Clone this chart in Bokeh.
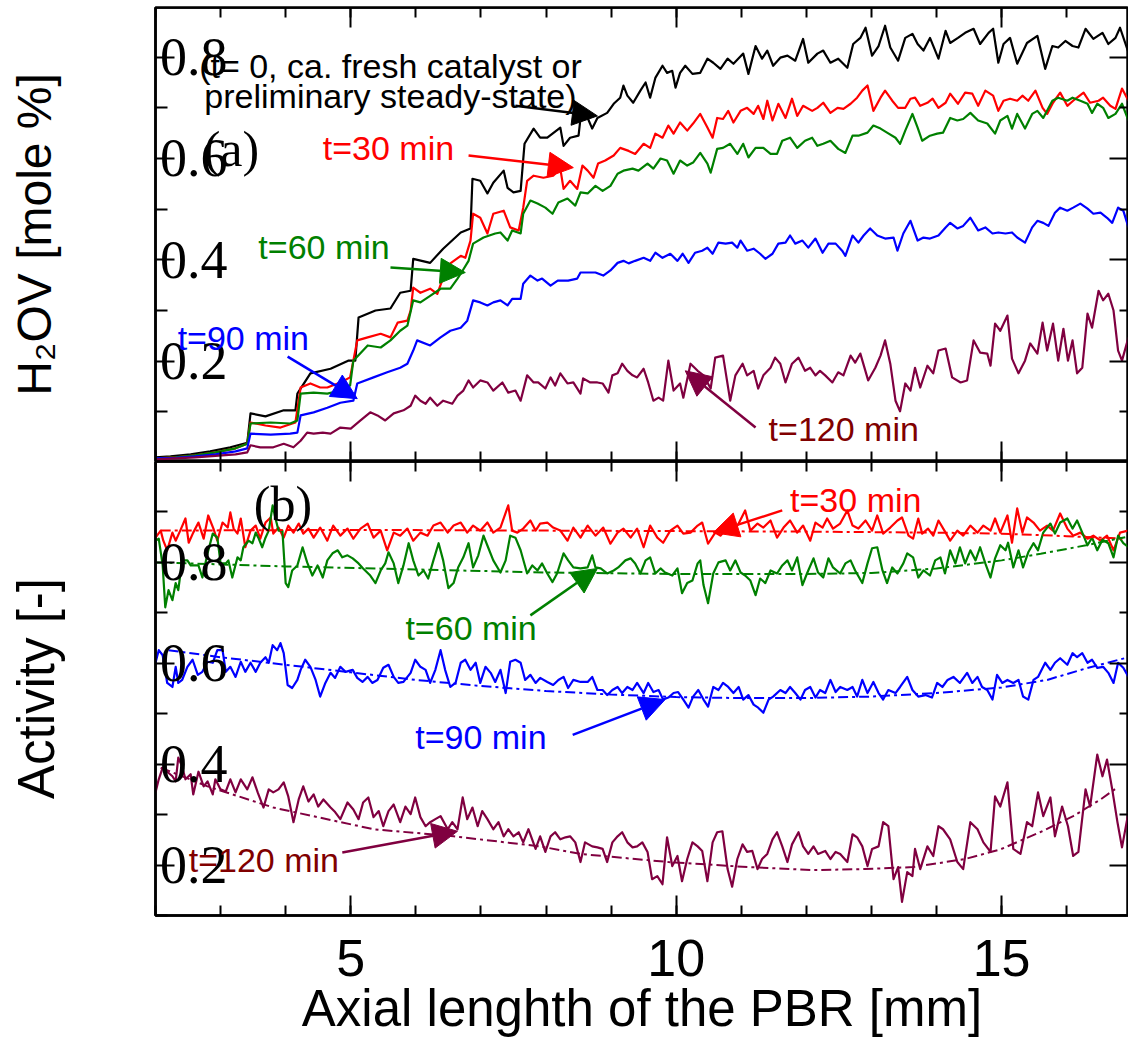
from bokeh.plotting import figure
from bokeh.layouts import column
from bokeh.models import Range1d, FixedTicker, LinearAxis, Label, Arrow, NormalHead
from bokeh.embed import file_html
from bokeh.resources import INLINE

# ---------------- data: panel (a) H2OV [mole %] ----------------
a_black_x = [2.00,2.23,2.54,2.84,3.15,3.41,3.46,3.69,3.97,4.15,4.18,4.38,4.69,4.96,5.07,5.12,5.38,5.61,5.76,5.92,5.96,6.22,6.42,6.69,6.84,6.87,6.99,7.10,7.19,7.35,7.41,7.50,7.61,7.67,7.81,7.91,8.02,8.22,8.27,8.37,8.50,8.53,8.64,8.71,8.79,8.94,9.04,9.14,9.19,9.25,9.34,9.45,9.53,9.60,9.68,9.79,9.86,9.94,9.99,10.06,10.14,10.25,10.37,10.48,10.57,10.68,10.79,10.88,11.03,11.11,11.22,11.32,11.40,11.49,11.60,11.71,11.83,11.95,12.03,12.17,12.26,12.37,12.49,12.63,12.72,12.83,12.91,13.01,13.11,13.21,13.29,13.41,13.52,13.63,13.71,13.80,13.90,14.03,14.14,14.21,14.33,14.44,14.57,14.67,14.80,14.87,14.95,15.03,15.13,15.24,15.39,15.55,15.67,15.78,15.87,15.98,16.09,16.18,16.29,16.41,16.55,16.64,16.75,16.82,16.95]
a_black_y = [0.010,0.012,0.016,0.022,0.030,0.039,0.097,0.091,0.103,0.103,0.136,0.176,0.185,0.201,0.201,0.286,0.300,0.304,0.335,0.339,0.402,0.394,0.422,0.454,0.462,0.560,0.556,0.531,0.552,0.576,0.542,0.533,0.536,0.629,0.659,0.641,0.641,0.661,0.625,0.641,0.645,0.679,0.680,0.659,0.680,0.690,0.708,0.720,0.744,0.724,0.710,0.734,0.750,0.720,0.759,0.783,0.769,0.773,0.740,0.769,0.783,0.767,0.769,0.797,0.789,0.777,0.797,0.787,0.807,0.767,0.822,0.797,0.813,0.783,0.799,0.803,0.793,0.836,0.789,0.807,0.813,0.789,0.797,0.779,0.826,0.838,0.858,0.803,0.822,0.862,0.819,0.793,0.838,0.846,0.826,0.813,0.838,0.797,0.852,0.828,0.838,0.848,0.856,0.826,0.848,0.856,0.789,0.826,0.838,0.787,0.828,0.842,0.777,0.822,0.819,0.832,0.822,0.819,0.856,0.836,0.848,0.826,0.838,0.858,0.809]

a_red_x = [2.00,2.31,2.61,2.92,3.23,3.41,3.46,3.69,3.92,4.15,4.23,4.38,4.53,4.64,4.84,4.99,5.10,5.26,5.46,5.61,5.72,5.87,5.92,5.96,6.07,6.22,6.33,6.42,6.53,6.69,6.76,6.84,6.88,6.99,7.10,7.19,7.35,7.45,7.58,7.65,7.71,7.81,7.96,8.11,8.22,8.27,8.37,8.48,8.56,8.64,8.73,8.80,8.91,9.04,9.14,9.27,9.37,9.50,9.60,9.68,9.79,9.88,9.96,10.06,10.17,10.26,10.37,10.48,10.56,10.63,10.72,10.80,10.88,10.99,11.09,11.19,11.26,11.34,11.40,11.48,11.57,11.68,11.78,11.86,11.95,12.09,12.17,12.26,12.37,12.48,12.57,12.68,12.78,12.86,12.94,13.03,13.14,13.21,13.32,13.41,13.52,13.60,13.67,13.75,13.86,13.94,14.03,14.14,14.21,14.33,14.44,14.55,14.64,14.75,14.87,14.95,15.03,15.13,15.24,15.32,15.41,15.52,15.63,15.70,15.79,15.90,16.01,16.10,16.26,16.36,16.49,16.56,16.67,16.75,16.85,16.95]
a_red_y = [0.008,0.010,0.014,0.020,0.028,0.037,0.079,0.073,0.069,0.079,0.148,0.156,0.148,0.148,0.158,0.168,0.241,0.247,0.254,0.247,0.276,0.280,0.300,0.345,0.335,0.343,0.333,0.365,0.393,0.408,0.404,0.438,0.491,0.483,0.452,0.491,0.497,0.464,0.458,0.503,0.556,0.566,0.562,0.566,0.580,0.540,0.556,0.540,0.586,0.576,0.562,0.590,0.596,0.606,0.621,0.615,0.609,0.629,0.621,0.649,0.641,0.665,0.649,0.671,0.655,0.669,0.688,0.661,0.641,0.680,0.678,0.694,0.671,0.694,0.700,0.688,0.704,0.678,0.714,0.675,0.708,0.680,0.718,0.684,0.704,0.694,0.700,0.710,0.690,0.700,0.698,0.708,0.720,0.734,0.744,0.694,0.720,0.734,0.714,0.700,0.700,0.718,0.720,0.704,0.710,0.718,0.700,0.710,0.728,0.708,0.730,0.728,0.704,0.734,0.724,0.694,0.714,0.718,0.714,0.724,0.714,0.734,0.700,0.688,0.710,0.730,0.704,0.714,0.730,0.710,0.714,0.720,0.704,0.698,0.738,0.714]

a_green_x = [2.00,2.31,2.61,2.92,3.23,3.41,3.46,3.77,4.07,4.18,4.23,4.43,4.64,4.84,4.99,5.04,5.26,5.46,5.61,5.76,5.87,5.96,6.07,6.22,6.38,6.53,6.64,6.72,6.81,6.88,7.04,7.22,7.30,7.41,7.48,7.61,7.65,7.76,7.87,7.99,8.10,8.19,8.33,8.45,8.53,8.64,8.76,8.87,8.99,9.10,9.19,9.33,9.42,9.56,9.65,9.76,9.86,9.96,10.06,10.17,10.26,10.37,10.48,10.53,10.63,10.72,10.83,10.94,11.03,11.11,11.22,11.34,11.45,11.55,11.63,11.75,11.86,11.98,12.09,12.17,12.26,12.37,12.49,12.60,12.71,12.80,12.94,13.03,13.14,13.24,13.37,13.44,13.52,13.63,13.71,13.78,13.90,14.01,14.10,14.21,14.32,14.41,14.52,14.64,14.78,14.90,14.98,15.09,15.16,15.24,15.36,15.47,15.55,15.64,15.78,15.87,16.01,16.09,16.21,16.32,16.39,16.47,16.56,16.64,16.75,16.85,16.95]
a_green_y = [0.008,0.010,0.014,0.020,0.028,0.037,0.077,0.079,0.077,0.083,0.136,0.138,0.136,0.142,0.152,0.201,0.231,0.227,0.241,0.260,0.270,0.320,0.316,0.329,0.343,0.343,0.363,0.379,0.398,0.432,0.444,0.452,0.454,0.438,0.458,0.452,0.491,0.517,0.511,0.503,0.491,0.513,0.521,0.507,0.533,0.531,0.546,0.536,0.546,0.570,0.576,0.580,0.576,0.590,0.580,0.600,0.596,0.570,0.596,0.586,0.592,0.611,0.590,0.572,0.619,0.621,0.629,0.609,0.629,0.602,0.621,0.621,0.609,0.609,0.635,0.641,0.621,0.635,0.641,0.625,0.629,0.635,0.619,0.611,0.645,0.645,0.651,0.665,0.659,0.651,0.641,0.629,0.655,0.688,0.661,0.635,0.645,0.649,0.651,0.680,0.675,0.678,0.690,0.675,0.669,0.649,0.675,0.684,0.659,0.688,0.659,0.688,0.694,0.680,0.714,0.720,0.714,0.720,0.714,0.708,0.690,0.708,0.700,0.680,0.688,0.708,0.675]

a_blue_x = [2.00,2.31,2.61,2.92,3.23,3.41,3.46,3.77,4.07,4.18,4.23,4.43,4.64,4.84,5.04,5.10,5.35,5.56,5.76,5.87,5.96,6.02,6.22,6.38,6.53,6.69,6.79,6.88,6.99,7.10,7.19,7.30,7.41,7.48,7.61,7.65,7.76,7.87,7.94,8.07,8.18,8.34,8.48,8.53,8.64,8.76,8.88,8.99,9.10,9.19,9.27,9.37,9.50,9.60,9.68,9.79,9.91,10.02,10.10,10.19,10.29,10.40,10.48,10.56,10.65,10.76,10.86,10.94,10.99,11.09,11.19,11.29,11.37,11.48,11.57,11.68,11.75,11.83,11.94,12.03,12.14,12.25,12.34,12.45,12.55,12.60,12.71,12.80,12.88,12.98,13.09,13.21,13.34,13.40,13.49,13.60,13.71,13.80,13.90,14.03,14.14,14.21,14.32,14.41,14.52,14.64,14.75,14.86,14.95,15.06,15.16,15.24,15.36,15.47,15.55,15.64,15.72,15.82,15.90,16.01,16.10,16.21,16.32,16.41,16.52,16.62,16.70,16.79,16.87,16.95]
a_blue_y = [0.008,0.009,0.012,0.016,0.022,0.028,0.057,0.055,0.057,0.059,0.093,0.099,0.108,0.118,0.122,0.156,0.168,0.178,0.187,0.195,0.221,0.241,0.231,0.247,0.260,0.266,0.280,0.320,0.316,0.310,0.316,0.320,0.310,0.323,0.323,0.353,0.369,0.359,0.363,0.349,0.359,0.359,0.363,0.375,0.375,0.375,0.369,0.379,0.394,0.398,0.393,0.398,0.404,0.398,0.414,0.404,0.412,0.398,0.412,0.394,0.414,0.418,0.424,0.412,0.434,0.432,0.434,0.424,0.438,0.418,0.422,0.412,0.402,0.412,0.432,0.434,0.448,0.432,0.438,0.424,0.442,0.414,0.432,0.432,0.418,0.408,0.448,0.434,0.448,0.462,0.448,0.442,0.444,0.418,0.452,0.477,0.438,0.444,0.442,0.448,0.464,0.473,0.462,0.467,0.483,0.458,0.464,0.452,0.454,0.452,0.454,0.444,0.434,0.464,0.477,0.473,0.467,0.493,0.503,0.497,0.503,0.511,0.501,0.491,0.493,0.483,0.473,0.503,0.497,0.464]

a_purple_x = [2.00,2.31,2.61,2.92,3.23,3.41,3.46,3.61,3.81,3.97,4.12,4.23,4.33,4.43,4.57,4.69,4.84,5.00,5.15,5.30,5.41,5.53,5.66,5.81,5.92,5.99,6.07,6.15,6.22,6.33,6.42,6.56,6.64,6.73,6.81,6.88,6.99,7.10,7.19,7.33,7.42,7.53,7.61,7.71,7.81,7.88,7.99,8.07,8.14,8.22,8.33,8.42,8.53,8.57,8.68,8.79,8.87,8.96,9.02,9.10,9.17,9.25,9.33,9.40,9.50,9.57,9.65,9.73,9.80,9.88,9.96,10.06,10.11,10.22,10.33,10.42,10.53,10.60,10.72,10.83,10.91,11.02,11.09,11.19,11.26,11.34,11.45,11.52,11.60,11.68,11.78,11.88,11.98,12.06,12.14,12.21,12.29,12.40,12.49,12.57,12.68,12.75,12.83,12.95,13.06,13.14,13.21,13.29,13.37,13.44,13.52,13.60,13.67,13.75,13.86,13.95,14.03,14.14,14.24,14.37,14.47,14.57,14.67,14.78,14.83,14.90,14.98,15.09,15.16,15.26,15.36,15.44,15.55,15.63,15.70,15.79,15.87,15.95,16.02,16.09,16.16,16.24,16.32,16.39,16.49,16.56,16.64,16.72,16.79,16.85,16.95]
a_purple_y = [0.006,0.008,0.010,0.013,0.016,0.020,0.034,0.030,0.030,0.037,0.030,0.043,0.059,0.057,0.059,0.057,0.069,0.067,0.083,0.099,0.093,0.083,0.097,0.103,0.112,0.132,0.122,0.116,0.128,0.112,0.122,0.116,0.132,0.142,0.162,0.148,0.162,0.158,0.142,0.158,0.138,0.142,0.122,0.172,0.158,0.158,0.146,0.168,0.152,0.176,0.156,0.158,0.136,0.166,0.158,0.158,0.156,0.138,0.172,0.176,0.195,0.181,0.172,0.168,0.185,0.158,0.122,0.128,0.122,0.201,0.142,0.156,0.128,0.195,0.181,0.172,0.146,0.207,0.211,0.122,0.172,0.195,0.172,0.181,0.146,0.172,0.187,0.207,0.195,0.158,0.195,0.207,0.181,0.187,0.172,0.181,0.172,0.158,0.178,0.172,0.211,0.197,0.215,0.162,0.187,0.211,0.241,0.195,0.122,0.101,0.156,0.142,0.187,0.148,0.191,0.176,0.221,0.225,0.168,0.158,0.162,0.241,0.217,0.215,0.191,0.274,0.260,0.290,0.205,0.176,0.201,0.235,0.215,0.276,0.221,0.274,0.201,0.264,0.201,0.241,0.176,0.187,0.294,0.266,0.339,0.320,0.333,0.300,0.221,0.201,0.247]

# ---------------- data: panel (b) Activity [-] ----------------
b_red_x = [2.00,2.08,2.12,2.18,2.26,2.31,2.38,2.46,2.51,2.58,2.66,2.74,2.81,2.89,2.95,3.03,3.11,3.15,3.20,3.26,3.31,3.38,3.46,3.54,3.61,3.69,3.77,3.81,3.89,3.97,4.04,4.12,4.20,4.27,4.35,4.43,4.53,4.64,4.73,4.84,4.95,5.04,5.15,5.26,5.35,5.46,5.56,5.66,5.76,5.87,5.96,6.07,6.18,6.27,6.38,6.49,6.58,6.69,6.79,6.88,6.99,7.10,7.19,7.30,7.42,7.48,7.56,7.65,7.76,7.84,7.91,8.02,8.11,8.22,8.33,8.42,8.53,8.64,8.76,8.88,8.99,9.10,9.19,9.30,9.40,9.50,9.60,9.71,9.80,9.91,10.02,10.11,10.22,10.33,10.40,10.49,10.60,10.68,10.79,10.88,10.96,11.06,11.14,11.25,11.34,11.45,11.55,11.65,11.75,11.86,11.95,12.06,12.14,12.25,12.32,12.41,12.52,12.63,12.71,12.80,12.91,13.01,13.09,13.18,13.29,13.40,13.47,13.57,13.64,13.72,13.78,13.87,13.95,14.03,14.14,14.21,14.32,14.41,14.52,14.63,14.72,14.83,14.90,14.98,15.09,15.16,15.24,15.32,15.39,15.49,15.59,15.70,15.79,15.90,16.01,16.10,16.21,16.32,16.41,16.52,16.62,16.72,16.82,16.95]
b_red_y = [0.849,0.863,0.843,0.824,0.859,0.843,0.863,0.887,0.839,0.859,0.879,0.847,0.893,0.867,0.843,0.879,0.869,0.899,0.867,0.857,0.887,0.830,0.863,0.873,0.847,0.879,0.889,0.857,0.869,0.849,0.873,0.859,0.877,0.857,0.867,0.849,0.869,0.843,0.873,0.853,0.867,0.847,0.867,0.877,0.849,0.863,0.824,0.859,0.853,0.867,0.843,0.859,0.853,0.873,0.879,0.859,0.873,0.879,0.859,0.873,0.863,0.879,0.859,0.869,0.913,0.863,0.859,0.867,0.883,0.863,0.877,0.879,0.869,0.863,0.843,0.869,0.849,0.873,0.853,0.869,0.837,0.859,0.867,0.849,0.867,0.830,0.873,0.849,0.839,0.863,0.873,0.857,0.859,0.873,0.879,0.837,0.859,0.853,0.869,0.863,0.877,0.903,0.863,0.877,0.869,0.883,0.849,0.869,0.883,0.859,0.873,0.843,0.879,0.869,0.887,0.867,0.877,0.903,0.873,0.867,0.883,0.863,0.893,0.857,0.869,0.883,0.889,0.853,0.847,0.887,0.857,0.867,0.853,0.883,0.859,0.843,0.863,0.853,0.873,0.859,0.873,0.863,0.887,0.859,0.893,0.839,0.907,0.859,0.889,0.879,0.863,0.873,0.863,0.897,0.867,0.853,0.859,0.847,0.853,0.843,0.853,0.824,0.859,0.863]

b_green_x = [2.00,2.05,2.11,2.15,2.20,2.26,2.31,2.35,2.41,2.49,2.54,2.58,2.66,2.72,2.80,2.88,2.95,3.00,3.08,3.12,3.18,3.26,3.31,3.35,3.43,3.49,3.54,3.58,3.64,3.69,3.74,3.80,3.84,3.89,3.95,4.00,4.04,4.10,4.18,4.26,4.33,4.41,4.49,4.57,4.64,4.72,4.80,4.87,4.95,5.03,5.12,5.19,5.30,5.38,5.46,5.53,5.58,5.66,5.73,5.81,5.89,5.96,6.04,6.12,6.19,6.27,6.35,6.42,6.50,6.58,6.65,6.73,6.81,6.88,6.96,7.04,7.11,7.19,7.30,7.38,7.45,7.53,7.61,7.71,7.79,7.87,7.94,8.02,8.10,8.17,8.27,8.34,8.42,8.53,8.64,8.71,8.76,8.84,8.94,9.04,9.11,9.22,9.30,9.37,9.45,9.53,9.60,9.68,9.76,9.83,9.94,10.02,10.09,10.17,10.25,10.33,10.37,10.42,10.49,10.57,10.65,10.76,10.83,10.91,10.99,11.06,11.14,11.22,11.29,11.37,11.45,11.55,11.63,11.71,11.78,11.86,11.94,12.01,12.11,12.18,12.26,12.34,12.41,12.52,12.60,12.68,12.75,12.86,12.94,13.01,13.09,13.17,13.24,13.32,13.40,13.49,13.55,13.64,13.72,13.80,13.90,13.98,14.06,14.13,14.21,14.29,14.36,14.44,14.52,14.60,14.67,14.75,14.83,14.90,14.98,15.06,15.10,15.18,15.26,15.33,15.41,15.49,15.56,15.64,15.75,15.82,15.90,16.01,16.09,16.16,16.24,16.32,16.39,16.47,16.55,16.64,16.72,16.79,16.87,16.95]
b_green_y = [0.843,0.847,0.794,0.711,0.745,0.725,0.759,0.745,0.804,0.804,0.794,0.794,0.794,0.770,0.818,0.857,0.849,0.798,0.798,0.804,0.770,0.810,0.804,0.830,0.843,0.838,0.859,0.849,0.830,0.849,0.863,0.913,0.889,0.863,0.863,0.759,0.751,0.784,0.794,0.830,0.800,0.774,0.794,0.770,0.804,0.818,0.824,0.810,0.814,0.808,0.798,0.788,0.774,0.759,0.784,0.798,0.820,0.798,0.759,0.794,0.838,0.804,0.774,0.784,0.768,0.804,0.838,0.804,0.749,0.759,0.790,0.810,0.838,0.790,0.814,0.853,0.830,0.804,0.780,0.804,0.853,0.849,0.824,0.778,0.794,0.784,0.798,0.778,0.761,0.778,0.818,0.804,0.790,0.788,0.790,0.814,0.790,0.788,0.778,0.784,0.790,0.804,0.808,0.798,0.778,0.804,0.810,0.778,0.788,0.780,0.774,0.788,0.739,0.759,0.764,0.798,0.804,0.755,0.719,0.778,0.800,0.804,0.784,0.804,0.780,0.774,0.764,0.735,0.768,0.759,0.784,0.778,0.794,0.804,0.784,0.810,0.755,0.778,0.808,0.780,0.770,0.808,0.790,0.778,0.798,0.804,0.784,0.759,0.798,0.828,0.830,0.784,0.759,0.790,0.778,0.798,0.818,0.810,0.770,0.784,0.774,0.804,0.810,0.778,0.824,0.798,0.830,0.798,0.824,0.804,0.830,0.798,0.770,0.808,0.834,0.824,0.839,0.790,0.824,0.790,0.820,0.838,0.824,0.859,0.877,0.857,0.879,0.887,0.867,0.883,0.859,0.834,0.849,0.824,0.845,0.838,0.810,0.853,0.838,0.830]

b_blue_x = [2.00,2.05,2.11,2.18,2.26,2.31,2.35,2.41,2.49,2.57,2.65,2.72,2.80,2.88,2.95,3.03,3.08,3.15,3.23,3.31,3.38,3.46,3.54,3.61,3.69,3.74,3.80,3.87,3.92,3.97,4.03,4.10,4.18,4.23,4.30,4.38,4.46,4.53,4.61,4.69,4.76,4.84,4.92,5.03,5.10,5.18,5.26,5.33,5.41,5.50,5.58,5.66,5.73,5.81,5.92,5.99,6.07,6.15,6.22,6.30,6.38,6.45,6.53,6.61,6.69,6.76,6.84,6.92,6.99,7.07,7.15,7.22,7.30,7.38,7.45,7.53,7.61,7.68,7.76,7.84,7.91,8.02,8.11,8.19,8.27,8.34,8.42,8.53,8.64,8.71,8.79,8.87,8.94,9.02,9.10,9.17,9.25,9.33,9.40,9.50,9.57,9.65,9.73,9.80,9.88,9.96,10.03,10.11,10.19,10.26,10.34,10.42,10.49,10.57,10.65,10.72,10.80,10.88,10.96,11.03,11.11,11.19,11.26,11.34,11.42,11.49,11.60,11.68,11.75,11.83,11.91,11.98,12.06,12.14,12.21,12.29,12.37,12.45,12.52,12.63,12.71,12.78,12.86,12.94,13.03,13.11,13.18,13.26,13.37,13.44,13.55,13.63,13.72,13.83,13.93,14.01,14.09,14.17,14.26,14.36,14.47,14.55,14.63,14.70,14.78,14.86,14.93,15.01,15.09,15.18,15.26,15.33,15.41,15.49,15.56,15.67,15.75,15.82,15.90,16.01,16.09,16.16,16.24,16.32,16.39,16.47,16.56,16.64,16.72,16.79,16.87,16.95]
b_blue_y = [0.601,0.626,0.616,0.561,0.553,0.593,0.561,0.567,0.593,0.607,0.577,0.583,0.603,0.601,0.626,0.626,0.583,0.593,0.573,0.603,0.583,0.601,0.583,0.601,0.612,0.601,0.636,0.626,0.640,0.620,0.557,0.551,0.567,0.587,0.607,0.593,0.567,0.534,0.561,0.581,0.571,0.593,0.583,0.587,0.571,0.563,0.573,0.561,0.567,0.591,0.597,0.573,0.561,0.563,0.581,0.607,0.593,0.587,0.561,0.587,0.626,0.587,0.553,0.561,0.601,0.607,0.587,0.601,0.561,0.593,0.581,0.563,0.587,0.541,0.603,0.607,0.601,0.567,0.577,0.561,0.571,0.563,0.557,0.567,0.573,0.551,0.567,0.563,0.563,0.573,0.547,0.547,0.537,0.547,0.553,0.541,0.553,0.547,0.561,0.541,0.561,0.543,0.547,0.528,0.532,0.541,0.543,0.528,0.512,0.534,0.547,0.528,0.514,0.553,0.547,0.561,0.553,0.541,0.553,0.528,0.537,0.518,0.512,0.502,0.528,0.534,0.547,0.541,0.553,0.541,0.528,0.547,0.553,0.532,0.547,0.541,0.567,0.543,0.553,0.547,0.553,0.534,0.567,0.541,0.563,0.541,0.528,0.547,0.541,0.553,0.573,0.547,0.534,0.537,0.532,0.561,0.553,0.567,0.573,0.561,0.581,0.561,0.573,0.553,0.547,0.528,0.577,0.561,0.567,0.561,0.567,0.534,0.528,0.567,0.573,0.601,0.587,0.601,0.610,0.597,0.620,0.612,0.620,0.601,0.607,0.591,0.593,0.581,0.561,0.601,0.591,0.573]

b_purple_x = [2.00,2.05,2.11,2.18,2.26,2.31,2.35,2.41,2.46,2.54,2.58,2.66,2.74,2.80,2.88,2.92,3.00,3.08,3.15,3.23,3.31,3.41,3.49,3.57,3.66,3.74,3.81,3.89,3.97,4.04,4.12,4.20,4.27,4.35,4.43,4.50,4.58,4.69,4.76,4.84,4.95,5.04,5.12,5.19,5.27,5.35,5.43,5.50,5.58,5.66,5.76,5.84,5.92,5.99,6.07,6.15,6.22,6.30,6.38,6.49,6.56,6.64,6.72,6.79,6.87,6.95,7.02,7.10,7.19,7.27,7.35,7.42,7.50,7.58,7.65,7.73,7.84,7.91,7.99,8.07,8.14,8.22,8.30,8.37,8.45,8.53,8.60,8.71,8.79,8.87,8.94,9.02,9.10,9.17,9.25,9.33,9.40,9.48,9.56,9.63,9.71,9.79,9.86,9.94,10.02,10.09,10.17,10.25,10.33,10.40,10.48,10.56,10.63,10.71,10.79,10.86,10.94,11.02,11.09,11.17,11.25,11.32,11.40,11.48,11.55,11.63,11.71,11.78,11.88,11.95,12.03,12.11,12.18,12.29,12.37,12.45,12.52,12.63,12.71,12.78,12.86,12.94,13.01,13.11,13.18,13.26,13.34,13.41,13.47,13.55,13.63,13.67,13.75,13.86,13.95,14.03,14.10,14.21,14.32,14.41,14.52,14.63,14.72,14.83,14.90,14.98,15.09,15.18,15.29,15.39,15.47,15.56,15.64,15.75,15.82,15.93,16.02,16.10,16.18,16.29,16.36,16.47,16.55,16.62,16.70,16.78,16.85,16.95]
b_purple_y = [0.344,0.370,0.393,0.385,0.376,0.366,0.413,0.395,0.370,0.380,0.340,0.385,0.356,0.366,0.340,0.370,0.350,0.346,0.370,0.344,0.370,0.350,0.374,0.344,0.314,0.350,0.344,0.350,0.364,0.336,0.285,0.330,0.356,0.326,0.340,0.316,0.330,0.314,0.305,0.291,0.324,0.310,0.291,0.324,0.334,0.295,0.307,0.277,0.307,0.320,0.285,0.316,0.301,0.334,0.295,0.277,0.285,0.291,0.297,0.271,0.285,0.271,0.334,0.291,0.314,0.277,0.307,0.291,0.271,0.285,0.257,0.271,0.257,0.265,0.245,0.271,0.232,0.257,0.226,0.257,0.265,0.251,0.255,0.257,0.245,0.206,0.245,0.237,0.235,0.232,0.206,0.245,0.257,0.265,0.245,0.235,0.237,0.245,0.226,0.172,0.178,0.162,0.255,0.198,0.218,0.168,0.212,0.245,0.237,0.228,0.168,0.245,0.265,0.267,0.192,0.157,0.212,0.241,0.226,0.228,0.192,0.212,0.222,0.251,0.265,0.237,0.206,0.241,0.265,0.237,0.222,0.237,0.222,0.228,0.212,0.226,0.222,0.206,0.261,0.255,0.237,0.198,0.232,0.237,0.285,0.277,0.172,0.196,0.127,0.186,0.178,0.232,0.192,0.237,0.218,0.277,0.271,0.251,0.206,0.192,0.285,0.271,0.245,0.226,0.336,0.316,0.364,0.232,0.222,0.285,0.277,0.344,0.297,0.334,0.257,0.316,0.277,0.218,0.226,0.350,0.316,0.419,0.376,0.409,0.350,0.285,0.235,0.305]

# fitted (dash-dot) curves of panel (b)
b_red_fit_x = [2.08, 4.0, 6.0, 8.0, 10.0, 12.0, 14.0, 15.0, 16.0, 16.9]
b_red_fit_y = [0.863, 0.864, 0.864, 0.863, 0.862, 0.861, 0.859, 0.857, 0.852, 0.847]
b_green_fit_x = [2.0, 3.0, 4.0, 6.0, 8.0, 10.0, 12.0, 13.0, 14.0, 15.0, 15.6, 16.3, 16.9]
b_green_fit_y = [0.800, 0.796, 0.792, 0.786, 0.780, 0.777, 0.777, 0.779, 0.788, 0.804, 0.817, 0.834, 0.850]
b_blue_fit_x = [2.2, 3.0, 4.0, 5.0, 6.0, 7.0, 8.0, 9.0, 10.0, 11.0, 12.0, 13.0, 14.0, 15.0, 15.7, 16.3, 16.95]
b_blue_fit_y = [0.626, 0.612, 0.597, 0.582, 0.567, 0.555, 0.545, 0.538, 0.533, 0.531, 0.531, 0.534, 0.541, 0.552, 0.567, 0.590, 0.612]
b_purple_fit_x = [2.08, 2.8, 3.81, 5.35, 6.58, 7.91, 8.53, 9.88, 11.11, 12.12, 12.89, 13.64, 14.44, 14.98, 15.59, 16.10, 16.52, 16.78]
b_purple_fit_y = [0.393, 0.356, 0.314, 0.271, 0.257, 0.237, 0.222, 0.206, 0.196, 0.190, 0.192, 0.196, 0.212, 0.231, 0.265, 0.297, 0.330, 0.354]

# ticks
x_major_ticks = [5, 10, 15]
x_minor_ticks = [2, 3, 4, 5, 6, 7, 8, 9, 10, 11, 12, 13, 14, 15, 16, 17]
y_major_ticks = [0.2, 0.4, 0.6, 0.8]
y_minor_ticks = [0.1, 0.3, 0.5, 0.7, 0.9]

BLACK, RED, GREEN, BLUE, PURPLE, MAROON = "#000000", "#FF0000", "#008000", "#0000FF", "#800040", "#800000"
SANS = "Liberation Sans"
SERIF = "Liberation Serif"
X_START, X_END = 2.0, 16.95


def tick_style(ax, major_in, minor_in):
    ax.axis_line_width = 2.5
    ax.axis_line_color = "black"
    ax.major_tick_in = major_in
    ax.major_tick_out = 0
    ax.minor_tick_in = minor_in
    ax.minor_tick_out = 0
    ax.major_tick_line_width = 2
    ax.minor_tick_line_width = 2
    ax.major_tick_line_color = "black"
    ax.minor_tick_line_color = "black"


def hide_labels(ax):
    ax.major_label_text_color = None
    ax.major_label_text_alpha = 0
    ax.major_label_standoff = 0


def make_fig(height, y_range, y_title, title_size, title_standoff, bottom_labels, top_border):
    p = figure(width=1128, height=height,
               x_range=Range1d(X_START, X_END), y_range=Range1d(*y_range),
               output_backend="svg", toolbar_location=None,
               min_border_left=155, min_border_right=0, min_border_top=top_border,
               min_border_bottom=(123 if bottom_labels else 0))
    p.grid.visible = False
    p.outline_line_color = "black"
    p.outline_line_width = 2.5
    p.background_fill_color = "white"
    p.border_fill_color = "white"

    # left axis: serif labels drawn inside the frame, title far left
    ya = p.yaxis[0]
    ya.ticker = FixedTicker(ticks=y_major_ticks, minor_ticks=y_minor_ticks)
    tick_style(ya, 19, 12)
    ya.major_label_text_font = SERIF
    ya.major_label_text_font_size = "54px"
    ya.major_label_text_color = "black"
    ya.major_label_standoff = -72
    ya.axis_label = y_title
    ya.axis_label_text_font = SANS
    ya.axis_label_text_font_size = title_size
    ya.axis_label_text_font_style = "normal"
    ya.axis_label_text_color = "black"
    ya.axis_label_standoff = title_standoff

    # bottom axis
    xa = p.xaxis[0]
    xa.ticker = FixedTicker(ticks=x_major_ticks, minor_ticks=x_minor_ticks)
    tick_style(xa, 20, 10)
    if bottom_labels:
        xa.major_label_text_font = SANS
        xa.major_label_text_font_size = "52px"
        xa.major_label_text_color = "black"
        xa.major_label_standoff = 24
        xa.axis_label = "Axial lenghth of the PBR [mm]"
        xa.axis_label_text_font = SANS
        xa.axis_label_text_font_size = "51px"
        xa.axis_label_text_font_style = "normal"
        xa.axis_label_text_color = "black"
        xa.axis_label_standoff = 1
    else:
        hide_labels(xa)
        xa.fixed_location = y_range[0]

    # mirrored axes (ticks only), pinned to the frame edges
    ta = LinearAxis(ticker=FixedTicker(ticks=x_major_ticks, minor_ticks=x_minor_ticks))
    tick_style(ta, 20, 10)
    hide_labels(ta)
    ta.fixed_location = y_range[1]
    p.add_layout(ta, "above")
    ra = LinearAxis(ticker=FixedTicker(ticks=y_major_ticks, minor_ticks=y_minor_ticks))
    tick_style(ra, 19, 9)
    hide_labels(ra)
    ra.fixed_location = X_END
    p.add_layout(ra, "right")
    return p


def add_text(p, text, x, y, color, size="34px", font=SANS, align="left", baseline="middle"):
    p.add_layout(Label(x=x, y=y, text=text, text_color=color, text_font=font,
                       text_font_size=size, text_align=align, text_baseline=baseline))


def add_arrow(p, x0, y0, x1, y1, color):
    p.add_layout(Arrow(end=NormalHead(size=25, fill_color=color, line_color=color, line_width=1),
                       x_start=x0, y_start=y0, x_end=x1, y_end=y1,
                       line_color=color, line_width=2.5))


def line(p, xs, ys, color):
    n = min(len(xs), len(ys))
    p.line(xs[:n], ys[:n], line_color=color, line_width=2.2, line_join="round")


# ---------------- panel (a) ----------------
p1 = make_fig(461, (0.002, 0.898), "H\u2082OV [mole %]", "48px", 96, False, 7)
line(p1, a_black_x, a_black_y, BLACK)
line(p1, a_red_x, a_red_y, RED)
line(p1, a_green_x, a_green_y, GREEN)
line(p1, a_blue_x, a_blue_y, BLUE)
line(p1, a_purple_x, a_purple_y, PURPLE)

add_text(p1, "(t= 0, ca. fresh catalyst or", 5.61, 0.783, BLACK, align="center", baseline="alphabetic")
add_text(p1, "preliminary steady-state)", 5.61, 0.724, BLACK, align="center", baseline="alphabetic")
add_arrow(p1, 7.53, 0.704, 8.79, 0.684, BLACK)
add_text(p1, "(a)", 2.74, 0.619, BLACK, size="50px", font=SERIF)
add_text(p1, "t=30 min", 4.57, 0.621, RED)
add_arrow(p1, 6.81, 0.606, 8.42, 0.582, RED)
add_text(p1, "t=60 min", 3.58, 0.426, GREEN)
add_arrow(p1, 5.61, 0.385, 6.76, 0.375, GREEN)
add_text(p1, "t=90 min", 2.34, 0.245, BLUE)
add_arrow(p1, 4.03, 0.209, 5.10, 0.126, BLUE)
add_text(p1, "t=120 min", 11.42, 0.067, MAROON)
add_arrow(p1, 11.22, 0.069, 10.14, 0.181, PURPLE)

# ---------------- panel (b) ----------------
p2 = make_fig(578, (0.1, 1.0), "Activity [-]", "51px", 92, True, 0)
line(p2, b_red_x, b_red_y, RED)
line(p2, b_green_x, b_green_y, GREEN)
line(p2, b_blue_x, b_blue_y, BLUE)
line(p2, b_purple_x, b_purple_y, PURPLE)
for fx, fy, c in [(b_red_fit_x, b_red_fit_y, RED), (b_green_fit_x, b_green_fit_y, GREEN),
                  (b_blue_fit_x, b_blue_fit_y, BLUE), (b_purple_fit_x, b_purple_fit_y, PURPLE)]:
    p2.line(fx, fy, line_color=c, line_width=2, line_dash="10 4 3 4")

add_text(p2, "(b)", 3.51, 0.916, BLACK, size="50px", font=SERIF)
add_text(p2, "t=30 min", 11.75, 0.924, RED)
add_arrow(p2, 11.63, 0.903, 10.57, 0.859, RED)
add_text(p2, "t=60 min", 5.84, 0.670, GREEN)
add_arrow(p2, 7.76, 0.695, 8.79, 0.788, GREEN)
add_text(p2, "t=90 min", 5.99, 0.453, BLUE)
add_arrow(p2, 8.41, 0.458, 9.83, 0.528, BLUE)
add_text(p2, "t=120 min", 2.51, 0.210, MAROON)
add_arrow(p2, 4.87, 0.225, 6.64, 0.267, PURPLE)

layout = column(p1, p2, spacing=0)
open("out.html", "w").write(file_html(layout, INLINE))
